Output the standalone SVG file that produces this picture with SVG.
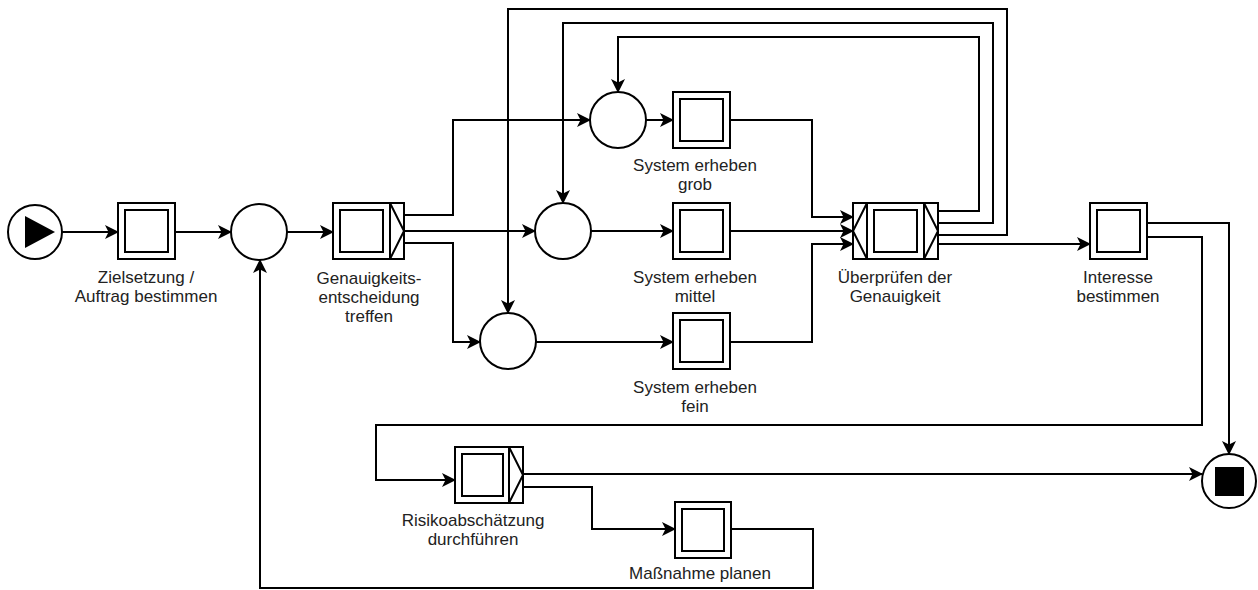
<svg xmlns="http://www.w3.org/2000/svg" width="1258" height="590" viewBox="0 0 1258 590">
<style>
.s{fill:#fff;stroke:#000;stroke-width:2}
.n{fill:none;stroke:#000;stroke-width:2}
.c{fill:none;stroke:#000;stroke-width:2;marker-end:url(#a)}
.p{fill:none;stroke:#000;stroke-width:2}
text{font-family:"Liberation Sans",Arial,sans-serif;font-size:17px;fill:#222;text-anchor:middle}
</style>
<defs>
<marker id="a" viewBox="0 0 14 14" refX="13" refY="7" markerWidth="14" markerHeight="14" markerUnits="userSpaceOnUse" orient="auto">
<path d="M0,0 L14,7 L0,14 L3.5,7 Z" fill="#000"/>
</marker>
</defs>
<rect width="1258" height="590" fill="#fff"/>
<g id="connectors">
<path class="c" d="M62,232 H118"/>
<path class="c" d="M175,232 H231"/>
<path class="c" d="M287,232 H333"/>
<path class="c" d="M404,215 H453 V120 H590"/>
<path class="c" d="M404,231 H535"/>
<path class="c" d="M404,243 H453 V342 H480"/>
<path class="c" d="M646,120 H673"/>
<path class="c" d="M591,231 H673"/>
<path class="c" d="M536,342 H673"/>
<path class="c" d="M730,120 H812 V217 H853"/>
<path class="c" d="M730,231 H853"/>
<path class="c" d="M730,342 H812 V244 H853"/>
<path class="c" d="M938,211 H979 V37 H618 V92"/>
<path class="c" d="M938,223 H993 V23 H563 V203"/>
<path class="c" d="M938,235 H1007 V9 H508 V313"/>
<path class="c" d="M938,244 H1090"/>
<path class="c" d="M1147,223 H1229 V454"/>
<path class="c" d="M1147,237 H1202 V425 H376 V480 H455"/>
<path class="c" d="M523,474 H1202"/>
<path class="c" d="M523,487 H592 V529 H675"/>
<path class="c" d="M731,529 H813 V588 H260 V260"/>
</g>
<g id="start">
<circle class="s" cx="35" cy="232" r="27"/>
<path d="M25,216 L55,232 L25,248 Z" fill="#000"/>
</g>
<g id="zielsetzung">
<rect class="s" x="118" y="203" width="57" height="56"/>
<rect class="n" x="125" y="210" width="43" height="42"/>
<text x="146" y="283">Zielsetzung /</text>
<text x="146" y="302">Auftrag bestimmen</text>
</g>
<g id="merge1">
<circle class="s" cx="259" cy="232" r="28"/>
</g>
<g id="genauigkeit">
<rect class="s" x="333" y="203" width="71" height="56"/>
<line class="n" x1="390" y1="203" x2="390" y2="259"/>
<rect class="n" x="340" y="210" width="43" height="42"/>
<path class="p" d="M390,203 L404,231 L390,259"/>
<text x="369" y="284">Genauigkeits-</text>
<text x="369" y="303">entscheidung</text>
<text x="369" y="322">treffen</text>
</g>
<g id="circle-grob"><circle class="s" cx="618" cy="120" r="28"/></g>
<g id="circle-mittel"><circle class="s" cx="563" cy="231" r="28"/></g>
<g id="circle-fein"><circle class="s" cx="508" cy="341" r="28"/></g>
<g id="grob">
<rect class="s" x="673" y="92" width="57" height="56"/>
<rect class="n" x="680" y="99" width="43" height="42"/>
<text x="695" y="171">System erheben</text>
<text x="695" y="190">grob</text>
</g>
<g id="mittel">
<rect class="s" x="673" y="203" width="57" height="56"/>
<rect class="n" x="680" y="210" width="43" height="42"/>
<text x="695" y="283">System erheben</text>
<text x="695" y="302">mittel</text>
</g>
<g id="fein">
<rect class="s" x="673" y="313" width="57" height="56"/>
<rect class="n" x="680" y="320" width="43" height="42"/>
<text x="695" y="393">System erheben</text>
<text x="695" y="412">fein</text>
</g>
<g id="ueberpruefen">
<rect class="s" x="853" y="203" width="85" height="56"/>
<line class="n" x1="867" y1="203" x2="867" y2="259"/>
<line class="n" x1="924" y1="203" x2="924" y2="259"/>
<rect class="n" x="874" y="210" width="43" height="42"/>
<path class="p" d="M867,203 L853,231 L867,259"/>
<path class="p" d="M924,203 L938,231 L924,259"/>
<text x="895" y="283">Überprüfen der</text>
<text x="895" y="302">Genauigkeit</text>
</g>
<g id="interesse">
<rect class="s" x="1090" y="203" width="57" height="56"/>
<rect class="n" x="1097" y="210" width="43" height="42"/>
<text x="1118" y="283">Interesse</text>
<text x="1118" y="302">bestimmen</text>
</g>
<g id="risiko">
<rect class="s" x="455" y="447" width="68" height="56"/>
<line class="n" x1="509" y1="447" x2="509" y2="503"/>
<rect class="n" x="462" y="454" width="41" height="42"/>
<path class="p" d="M509,447 L523,475 L509,503"/>
<text x="473" y="526">Risikoabschätzung</text>
<text x="473" y="545">durchführen</text>
</g>
<g id="massnahme">
<rect class="s" x="675" y="502" width="56" height="56"/>
<rect class="n" x="682" y="509" width="42" height="42"/>
<text x="700" y="579">Maßnahme planen</text>
</g>
<g id="end">
<circle class="s" cx="1229" cy="481" r="27"/>
<rect x="1215" y="467" width="29" height="29" fill="#000"/>
</g>
</svg>
